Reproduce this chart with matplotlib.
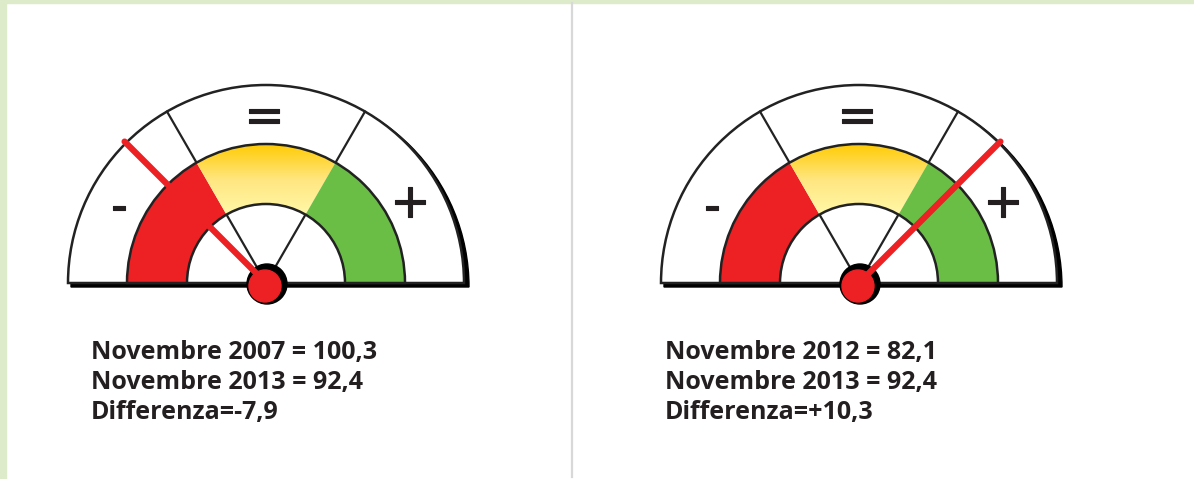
import numpy as np
import matplotlib
matplotlib.use("Agg")
import matplotlib.pyplot as plt
import matplotlib.patheffects as pe
from matplotlib.patches import Wedge, Circle, Rectangle
from matplotlib.colors import LinearSegmentedColormap

# data
zone_symbols = ["-", "=", "+"]
zone_edges = [180, 120, 60, 0]          # degrees, left to right
zone_colors = ["#ED2024", "gradient", "#6ABD45"]
start_labels = ["Novembre 2007", "Novembre 2012"]
start_values = [100.3, 82.1]
end_label = "Novembre 2013"
end_values = [92.4, 92.4]
needle_angles = [135, 45]               # where the needle points

W, H = 1194, 479
fig = plt.figure(figsize=(W / 100, H / 100), dpi=100)
ax = fig.add_axes([0, 0, 1, 1])
ax.set_xlim(0, W)
ax.set_ylim(0, H)
ax.axis("off")

def Y(y):
    return H - y

# page background / borders
ax.add_patch(Rectangle((0, 0), W, H, color="white", zorder=0))
ax.add_patch(Rectangle((0, Y(3)), W, 3, color="#DDEBCB", zorder=1))
ax.add_patch(Rectangle((0, 0), 6, H, color="#DDEBCB", zorder=1))
ax.plot([572, 572], [Y(3), Y(477)], color="#D8D8D8", lw=1.6, zorder=1)

yellow = LinearSegmentedColormap.from_list("yel", ["#FFF8A8", "#FFE680", "#FFCB05"])

def fmt(v, sign=False):
    s = ("%+.1f" if sign else "%.1f") % v
    return s.replace(".", ",")

R_OUT, R_BAND, R_IN = 198, 139, 79

for i, cx in enumerate([266, 859]):
    cy = Y(283)
    # shadow + outer ring
    ax.add_patch(Wedge((cx + 4, cy - 4), R_OUT + 1, 0, 180, color="black", zorder=2))
    ax.add_patch(Wedge((cx, cy), R_OUT, 0, 180, facecolor="white",
                       edgecolor="#222222", lw=1.8, zorder=3))
    # dividers in the outer ring and inner area
    for a in zone_edges[1:-1]:
        t = np.radians(a)
        ax.plot([cx + R_BAND * np.cos(t), cx + R_OUT * np.cos(t)],
                [cy + R_BAND * np.sin(t), cy + R_OUT * np.sin(t)],
                color="#222222", lw=1.6, zorder=4)
        ax.plot([cx + 18 * np.cos(t), cx + R_IN * np.cos(t)],
                [cy + 18 * np.sin(t), cy + R_IN * np.sin(t)],
                color="#222222", lw=1.6, zorder=4)
    # colored band
    for k in range(3):
        a1, a0 = zone_edges[k], zone_edges[k + 1]
        if zone_colors[k] == "gradient":
            w = Wedge((cx, cy), R_BAND, a0, a1, width=R_BAND - R_IN,
                      facecolor="none", edgecolor="none", zorder=5)
            ax.add_patch(w)
            grad = np.linspace(0, 1, 100).reshape(-1, 1)
            y0 = cy + R_IN * np.sin(np.radians(60))
            im = ax.imshow(grad, cmap=yellow, origin="lower", aspect="auto",
                           extent=[cx - R_BAND, cx + R_BAND, y0, cy + R_BAND],
                           zorder=5)
            im.set_clip_path(w)
        else:
            ax.add_patch(Wedge((cx, cy), R_BAND, a0, a1, width=R_BAND - R_IN,
                               facecolor=zone_colors[k], edgecolor="none", zorder=5))
    ax.add_patch(Wedge((cx, cy), R_BAND, 0, 180, width=R_BAND - R_IN,
                       facecolor="none", edgecolor="#222222", lw=1.8, zorder=6))
    # zone symbols
    sym_pos = [(cx - 147, Y(207)), (cx - 2, Y(117)), (cx + 144, Y(203))]
    for s, (sx, sy) in zip(zone_symbols, sym_pos):
        ax.text(sx, sy, s, fontsize=35, ha="center", va="center",
                color="#231F20", family="DejaVu Sans", zorder=6,
                path_effects=[pe.withStroke(linewidth=0.8, foreground="#231F20")])
    # needle
    t = np.radians(needle_angles[i])
    ax.plot([cx, cx + 200 * np.cos(t)], [cy, cy + 200 * np.sin(t)],
            color="#ED2024", lw=4.5, solid_capstyle="round", zorder=8)
    # hub
    ax.add_patch(Circle((cx + 1, cy - 1), 20, color="black", zorder=7))
    ax.add_patch(Circle((cx - 1, cy - 3), 16, color="#ED2024", zorder=9))

    # text block
    diff = end_values[i] - start_values[i]
    lines = [f"{start_labels[i]} = {fmt(start_values[i])}",
             f"{end_label} = {fmt(end_values[i])}",
             f"Differenza={fmt(diff, sign=True)}"]
    tx = 91 if i == 0 else 665
    for j, line in enumerate(lines):
        ax.text(tx, Y(352 + 30 * j), line, fontsize=18, fontweight="bold",
                family="Open Sans", color="#231F20", ha="left", va="center", zorder=6)

fig.savefig("out.png", dpi=100)
